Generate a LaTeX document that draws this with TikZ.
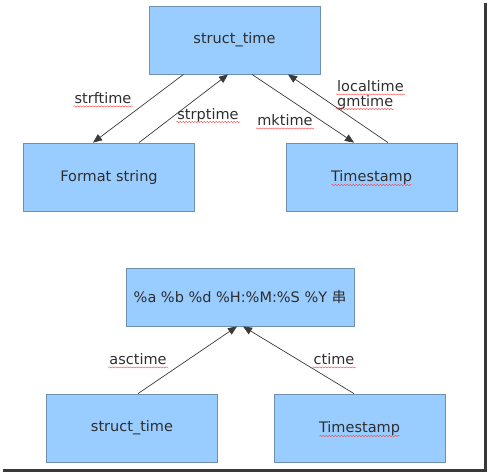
\documentclass[tikz,border=0pt]{standalone}
\usepackage{fontspec}
\setmainfont{DejaVu Sans}
\newfontfamily\cjkfont{Noto Sans CJK SC}
\usetikzlibrary{calc,arrows.meta,decorations.pathmorphing}

\definecolor{boxfill}{HTML}{99CCFF}
\definecolor{boxline}{HTML}{7090B0}
\definecolor{txtgray}{HTML}{2E2E2E}
\definecolor{arrowgray}{HTML}{3A3A3A}

\tikzset{
  box/.style={draw=boxline, fill=boxfill, line width=0.8pt, minimum width=171pt,
    minimum height=68pt, inner sep=0pt, text=txtgray, font=\fontsize{14.5}{16}\selectfont},
  conv/.style={draw=arrowgray, line width=0.7pt, -{Triangle[length=9pt,width=7.5pt]}},
  fn/.style={text=txtgray, inner sep=1pt, font=\fontsize{14.5}{16}\selectfont},
  spell/.style={draw=red!75, line width=0.4pt, decorate,
    decoration={snake, amplitude=0.6pt, segment length=3pt}},
}
\newcommand\spellmark[1]{\draw[spell] ([yshift=-3pt]#1.base west) -- ([yshift=-3pt]#1.base east);}

\begin{document}
\begin{tikzpicture}[x=1pt, y=-1pt]
      \useasboundingbox (0,0) rectangle (488,474);

      % Upper diagram
      \node[box] (st)  at (234.5,40) {struct\_time};
      \node[box] (fmt) at (109,177)   {Format string};
      \node[box] (ts)  at (371.5,177) {Timestamp};

      \draw[conv] ($(st.south)+(-51,0)$)   -- ($(fmt.north)+(-16,0)$);
      \draw[conv] ($(fmt.north)+(30,0)$)   -- ($(st.south)+(-6.5,0)$);
      \draw[conv] ($(st.south)+(17.5,0)$)  -- ($(ts.north)+(-17.5,0)$);
      \draw[conv] ($(ts.north)+(16.5,0)$)  -- ($(st.south)+(53.5,0)$);

      % Function names
      \node[fn] (strf)  at (103,98)  {strftime};
      \node[fn] (strp)  at (208,115) {strptime};
      \node[fn] (mk)    at (285,120) {mktime};
      \node[fn, anchor=west] (local) at (336,86)  {localtime};
      \node[fn, anchor=west] (gm)    at (336,102) {gmtime};

      % Lower diagram
      \node[box, minimum width=228pt, minimum height=58pt] (out) at (240,297)
        {\%a \%b \%d \%H:\%M:\%S \%Y {\cjkfont 串}};
      \node[box] (st2) at (132,428)   {struct\_time};
      \node[box] (ts2) at (359.5,428) {Timestamp};

      \draw[conv] ($(st2.north)+(6,0)$)   -- ($(out.south)+(-3,0)$);
      \draw[conv] ($(ts2.north)+(-5.5,0)$) -- ($(out.south)+(3,0)$);

      \node[fn] (asc) at (138,359) {asctime};
      \node[fn] (ct)  at (334,359) {ctime};

      % Spell-check marks
      \spellmark{strf} \spellmark{strp} \spellmark{mk}
      \spellmark{local} \spellmark{gm} \spellmark{asc} \spellmark{ct}
      \draw[spell] ($(ts.center)+(-40,8)$)  -- ($(ts.center)+(40,8)$);
      \draw[spell] ($(ts2.center)+(-40,8)$) -- ($(ts2.center)+(40,8)$);

      % Frame shadow
      \draw[line width=3pt, gray!45!black] (3,470.5) -- (485,470.5) -- (485,3);
\end{tikzpicture}
\end{document}
